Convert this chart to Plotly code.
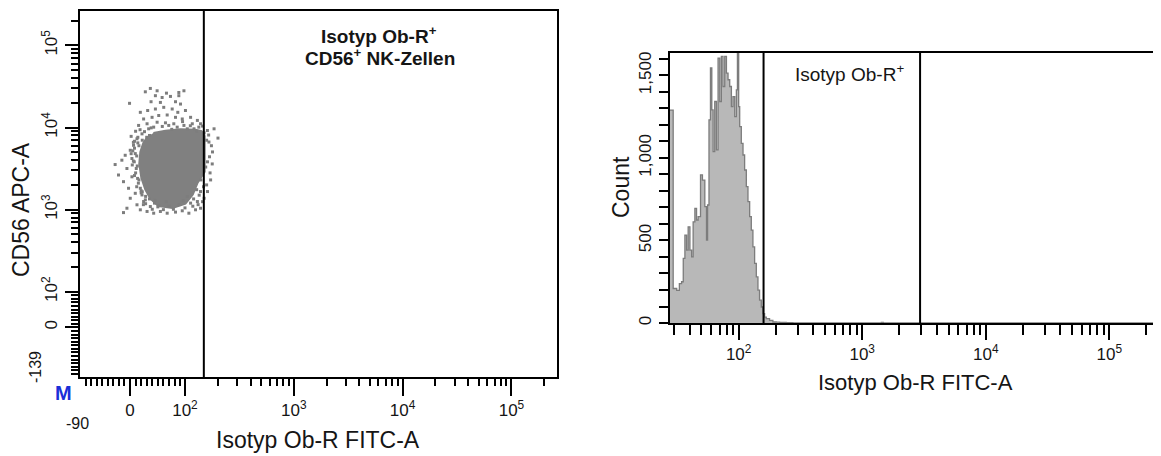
import numpy as np
import plotly.graph_objects as go

W, H = 1161, 456          # browser window
OFF = 8                   # default page margin around the figure
FW, FH = W - OFF, H - OFF # figure size


def fx(px):
    return (px - OFF) / FW


def fy(py):
    return 1 - (py - OFF) / FH


# ---------------- axis limits (cytometer display) ----------------
FITC_MIN, FITC_MAX = -90, 262144
APC_MIN, APC_MAX = -139, 262144
HIST_MIN, HIST_MAX = 27.8, 262144
COUNT_MAX = 1636
X_LIN, Y_LIN = 85.0, 100.0          # linear -> log switch of the biexponential scale

# ---------------- gates ----------------
GATE_DOT = 149                       # FITC gate in dot plot
GATE_HIST = [159, 2940]              # gate borders in histogram

# ---------------- dot plot: dense core outline (FITC, APC) ----------------
core_fitc = [42, 63.7, 91, 125, 142, 151.7, 151.7, 130.7, 118, 101, 76.3, 51, 36.5, 27.5,
             20.3, 16.6, 18.5, 23.9, 31.1]
core_apc = [8550, 9160, 9550, 9420, 9040, 7850, 2890, 2130, 1525, 1186, 1047, 1107, 1364, 1753,
            2445, 3610, 5040, 6470, 7640]

# ---------------- dot plot: sparse events ----------------
ev_fitc = [36.5, 48.7, 27.5, 65.5, 87.8, 97.8, 45.6, 57.7, 72.7, 87.8,
           -0.9, 37.8, 54.6, 81.8, 91, 18.5, 31.7, 45.6, 60.6, 75.8,
           85.9, 101, 24.4, 39.6, 51.6, 66.8, 81.8, 94.4, 112.6, 130,
           15.4, 30.6, 48.7, 63.7, 78.7, 97.8, 116.7, 134, 160.7, 185,
           201, 166, 179, 161, 172, 161, 150, -26.8, -14.7, -8.7,
           0.4, -5.6, -20.8, 3.4, -11.8, -2.7, 9.4, 0.4, -5.6, 12.5,
           -11.8, 18.5, 30.6, 42.5, 54.6, 66.8, 81.8, 94.4, 108.6, 125,
           139, 24.4, 36.5, 112.6, 130, 139, 6.3, 9.4, 7.6, 11.2,
           13.6, 18.5, 21.5, 27.5, 3.4, 12.5, 21.5, 33.5, 42.5, 69.6,
           84.8, 105, 121, 139,
           28, 40, 52, 60, 70, 78, 88, 100, 118, 132, 45, 65, 96,
           8, 4, 10, 15, 2, 14, 20,
           38, 58, 75, 95, 112, 128, 145, 150,
           165, 158, 175, 168, 155, 170, 158, 178,
           2, 8,
           10, 18, 26, 35, 14, 22, 30, 6, 16,
           5, 12, 6, 13, 8, 16, 12, 22,
           20, 28, 35, 24, 44, 50,
           105, 120, 135, 145, 128, 148, 140]
ev_apc = [29900, 28000, 27200, 26200, 26700, 28000, 24400, 23200, 23900, 24400,
          19700, 20600, 20200, 20600, 19300, 15300, 16100, 16800, 17600, 16800,
          15300, 16100, 12700, 13300, 14000, 14200, 13300, 12700, 13300, 12200,
          10600, 11100, 11600, 11400, 11100, 10600, 11100, 10100, 9200, 9640,
          7430, 6650, 5040, 3820, 2300, 1660, 1375, 3540, 4000, 4590,
          5280, 3170, 2640, 2510, 2190, 1820, 1580, 1375, 1040, 1145,
          920, 995, 950, 905, 950, 905, 933, 968, 905, 995,
          1040, 1255, 1090, 1200, 1255, 1660, 6070, 4810, 3820, 3170,
          2400, 1820, 1510, 1315, 4190, 7290, 8370, 9640, 10100, 10600,
          10100, 9640, 9640, 11100,
          1180, 1010, 1120, 1000, 1100, 1010, 1150, 1050, 1100, 1150, 1300, 1250, 1280,
          5600, 3500, 2800, 2100, 4800, 6500, 1700,
          9900, 10300, 9500, 11800, 10500, 9000, 10400, 8600,
          8100, 7000, 6000, 4400, 3300, 2800, 2000, 3600,
          7800, 6800,
          9000, 9400, 8900, 8000, 7600, 7000, 7600, 6600, 6000,
          5200, 4500, 3900, 3400, 2600, 2300, 1900, 1650,
          1600, 1450, 1350, 1150, 1200, 1080,
          1450, 1350, 1500, 1250, 1750, 1900, 2300]

# ---------------- histogram: bin left edges (FITC) and counts ----------------
hist_fitc = [27.8, 29.5, 31.5, 33.1, 34.5, 35.6, 36.7, 37.9, 39.0, 40.3,
             41.6, 42.8, 44.2, 45.6, 47.0, 49.1, 50.9, 53.2, 54.9, 56.0,
             57.5, 59.1, 60.6, 62.1, 64.0, 66.1, 68.1, 70.3, 72.4, 74.7,
             77.1, 79.6, 82.0, 84.6, 87.3, 89.9, 92.9, 95.8, 97.7, 100,
             101.9, 105, 108.4, 111.7, 115.3, 118.9, 122.7, 126.5, 130.4, 134.6,
             138.9, 143.2, 147.6, 152.4, 157.1, 162.1, 167.2, 177.8, 189.2, 201.4,
             214.3, 242.7, 274.4, 1430, 1480, 262144]
hist_count = [1290, 209, 198, 239, 250, 391, 532, 441, 583, 441,
              401, 613, 695, 624, 644, 897, 866, 705, 502, 715,
              1231, 1545, 1291, 1038, 1342, 1049, 1605, 1342, 1615, 1433,
              1615, 1514, 1474, 1433, 1311, 1372, 1251, 1413, 1636, 1311,
              1190, 1089, 1018, 927, 826, 735, 644, 563, 461, 361,
              279, 199, 138, 97, 57, 36, 27, 16, 6, 5,
              3, 2, 0, 3, 0, 0]

# ---------------- tick values / labels ----------------
major_vals = [0, 1e2, 1e3, 1e4, 1e5]
major_text = ["0", "10<sup>2</sup>", "10<sup>3</sup>", "10<sup>4</sup>", "10<sup>5</sup>"]
log_minor = [m * 10 ** e for e in (2, 3, 4) for m in range(2, 10)] + [2e5]
x_minor_lin = [v for v in range(-80, 100, 10) if v != 0]
y_minor_lin = [v for v in range(-130, 100, 10) if v != 0]
hist_major = [1e2, 1e3, 1e4, 1e5]
hist_major_text = major_text[1:]
hist_minor = [30, 40, 50, 60, 70, 80, 90] + log_minor
count_major = [0, 500, 1000, 1500]
count_text = ["0", "500", "1,000", "1,500"]
count_minor = list(range(100, 1700, 100))


def biex(v, t):
    v = np.asarray(v, dtype=float)
    lin = np.log10(t) + (v - t) / (t * np.log(10))
    return np.where(v >= t, np.log10(np.clip(v, t, None)), lin)


def bx(v):
    return biex(v, X_LIN)


def by(v):
    return biex(v, Y_LIN)


TXT = "#151515"
FONT = "Liberation Sans, Arial, sans-serif"
TICKFONT = dict(family=FONT, size=17, color=TXT)

fig = go.Figure()

# dense core
fig.add_trace(go.Scatter(x=bx(core_fitc), y=by(core_apc), mode="lines", fill="toself",
                         fillcolor="#808080", line=dict(color="#808080", width=2),
                         xaxis="x", yaxis="y", hoverinfo="skip"))
# sparse events
fig.add_trace(go.Scatter(x=bx(ev_fitc), y=by(ev_apc), mode="markers",
                         marker=dict(symbol="square", size=3, color="#7d7d7d", line=dict(width=0)),
                         xaxis="x", yaxis="y"))
# dot plot gate
fig.add_trace(go.Scatter(x=bx([GATE_DOT, GATE_DOT]), y=by([APC_MIN, APC_MAX]), mode="lines",
                         line=dict(color="black", width=2), xaxis="x", yaxis="y"))

# histogram
fig.add_trace(go.Scatter(x=hist_fitc, y=hist_count, mode="lines", line_shape="hv",
                         fill="tozeroy", fillcolor="#b8b8b8",
                         line=dict(color="#7c7c7c", width=1.3), xaxis="x2", yaxis="y2"))
for g in GATE_HIST:
    fig.add_trace(go.Scatter(x=[g, g], y=[0, COUNT_MAX], mode="lines",
                             line=dict(color="black", width=2), xaxis="x2", yaxis="y2"))

axis_common = dict(showgrid=False, zeroline=False, showline=True, linecolor="black",
                   linewidth=2, mirror=True, ticks="outside", tickcolor="black",
                   tickwidth=1.5, tickfont=TICKFONT, automargin=False)

fig.update_layout(
    width=FW, height=FH, margin=dict(l=0, r=0, t=0, b=0, autoexpand=False),
    paper_bgcolor="white", plot_bgcolor="white", showlegend=False,
    xaxis=dict(domain=[fx(80), fx(557)], anchor="y",
               range=[float(bx(FITC_MIN)), float(bx(FITC_MAX))],
               tickmode="array", tickvals=bx(major_vals).tolist(), ticktext=major_text,
               ticklen=17, ticklabelstandoff=0,
               minor=dict(ticks="outside", tickvals=bx(x_minor_lin + log_minor).tolist(),
                          ticklen=7, tickwidth=1.5, tickcolor="black"),
               **axis_common),
    yaxis=dict(domain=[fy(377), fy(11)], anchor="x",
               range=[float(by(APC_MIN)), float(by(APC_MAX))],
               tickmode="array", tickvals=by(major_vals).tolist(), ticktext=major_text,
               tickangle=-90, ticklen=13, ticklabelstandoff=1,
               minor=dict(ticks="outside", tickvals=by(y_minor_lin + log_minor).tolist(),
                          ticklen=7, tickwidth=1.5, tickcolor="black"),
               **axis_common),
    xaxis2=dict(domain=[fx(670), 1.0], anchor="y2", type="log",
                range=[np.log10(HIST_MIN), np.log10(HIST_MAX)],
                tickmode="array", tickvals=hist_major, ticktext=hist_major_text,
                ticklen=15, ticklabelstandoff=0,
                minor=dict(ticks="outside", tickvals=hist_minor, ticklen=10,
                           tickwidth=1.5, tickcolor="black"),
                **axis_common),
    yaxis2=dict(domain=[fy(323), fy(53)], anchor="x2",
                range=[0, COUNT_MAX],
                tickmode="array", tickvals=count_major, ticktext=count_text,
                tickangle=-90, ticklen=9, ticklabelstandoff=1,
                minor=dict(ticks="outside", tickvals=count_minor, ticklen=9,
                           tickwidth=1.5, tickcolor="black"),
                **axis_common),
)


def ann(text, px, py, size, angle=0, bold=False, color=TXT, family=FONT):
    if bold:
        text = "<b>" + text + "</b>"
    fig.add_annotation(text=text, x=fx(px), y=fy(py), xref="paper", yref="paper",
                       xanchor="center", yanchor="middle", showarrow=False,
                       textangle=angle, font=dict(family=family, size=size, color=color))


ann("Isotyp Ob-R FITC-A", 318, 440, 23)
ann("CD56 APC-A", 21, 210, 23, angle=-90)
ann("Isotyp Ob-R<sup>+</sup>", 379, 35, 19, bold=True)
ann("CD56<sup>+</sup> NK-Zellen", 380, 57, 19, bold=True)
ann("M", 63, 393, 20, bold=True, color="#1a2fd8")
ann("-90", 77, 423, 16)
ann("-139", 35, 367, 16, angle=-90)

ann("Isotyp Ob-R FITC-A", 915, 382, 22)
ann("Count", 621, 187, 23, angle=-90)
ann("Isotyp Ob-R<sup>+</sup>", 849, 73, 19)

fig.write_html("out.html")
